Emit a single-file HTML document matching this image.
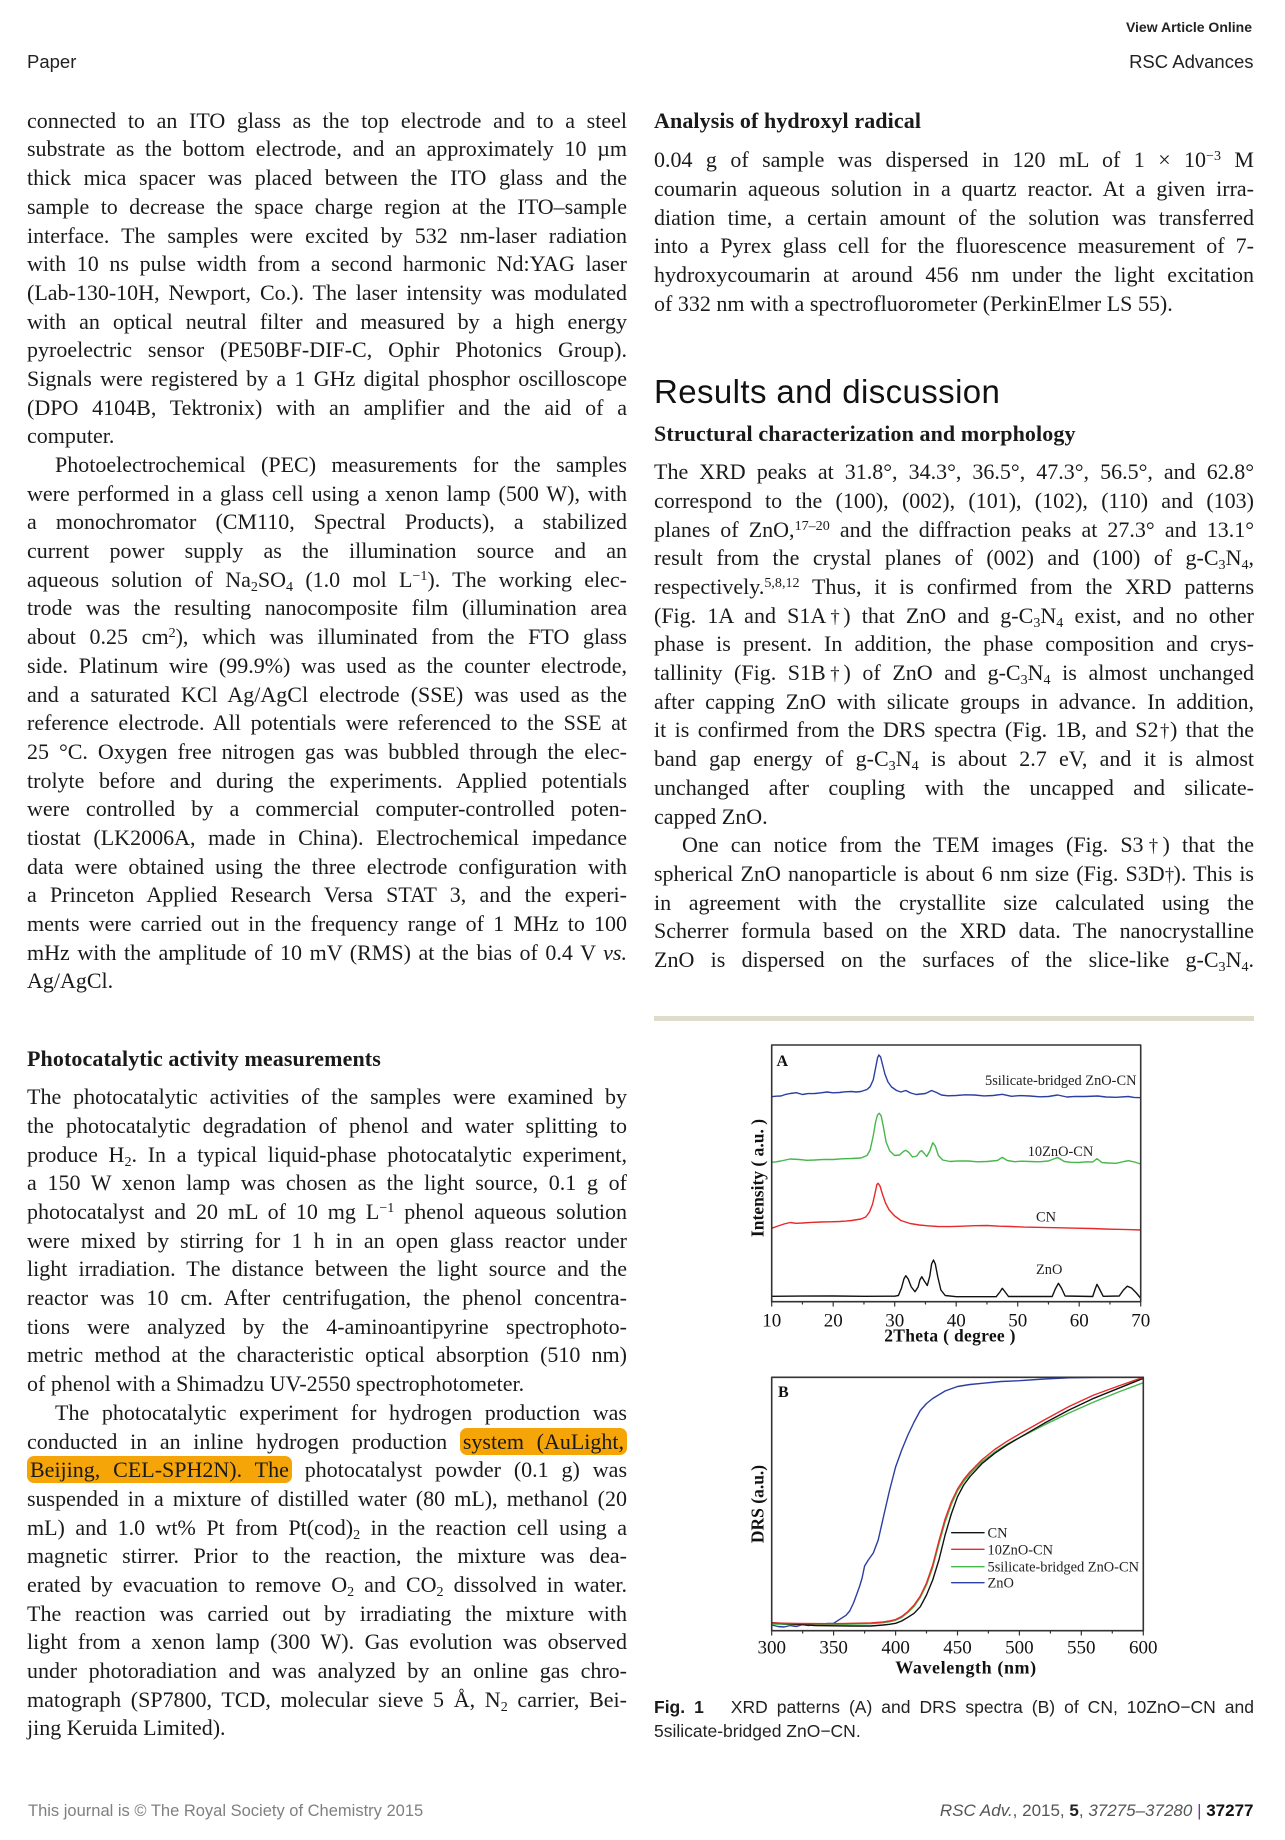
<!DOCTYPE html>
<html>
<head>
<meta charset="utf-8">
<style>
  html,body{margin:0;padding:0;background:#fff;}
  body{width:1285px;height:1840px;position:relative;overflow:hidden;}
  .abs{position:absolute;}
  .col{position:absolute;width:600px;font-family:"Liberation Serif",serif;font-size:22px;color:#1a1a1a;}
  .l{height:28.7px;line-height:28.7px;text-align:justify;text-align-last:justify;}
  .last{text-align:left;text-align-last:left;}
  .ind{text-indent:28px;}
  .h{font-weight:bold;text-align:left;text-align-last:left;letter-spacing:0.1px;}
  sup,sub{font-size:0.64em;line-height:0;}
  sup{vertical-align:0.5em;}
  sub{vertical-align:-0.28em;}
  .dg{font-size:0.85em;letter-spacing:-0.12em;margin-left:-0.08em;}
  .hl{background:#f6a508;border-radius:7px;padding:1px 3px;-webkit-box-decoration-break:clone;box-decoration-break:clone;}
  .sans{font-family:"Liberation Sans",sans-serif;}
</style>
</head>
<body>

<!-- Header -->
<div class="abs sans" style="right:33px;top:19.8px;font-size:14px;line-height:14px;font-weight:bold;color:#222;">View Article Online</div>
<div class="abs sans" style="left:27px;top:53.3px;font-size:18.5px;line-height:18.5px;color:#222;">Paper</div>
<div class="abs sans" style="right:31.5px;top:53.3px;font-size:18.5px;line-height:18.5px;color:#222;">RSC Advances</div>

<!-- Left column, paragraph block 1 -->
<div class="col" style="left:27px;top:106.8px;">
  <div class="l">connected to an ITO glass as the top electrode and to a steel</div>
  <div class="l">substrate as the bottom electrode, and an approximately 10 &micro;m</div>
  <div class="l">thick mica spacer was placed between the ITO glass and the</div>
  <div class="l">sample to decrease the space charge region at the ITO&ndash;sample</div>
  <div class="l">interface. The samples were excited by 532 nm-laser radiation</div>
  <div class="l">with 10 ns pulse width from a second harmonic Nd:YAG laser</div>
  <div class="l">(Lab-130-10H, Newport, Co.). The laser intensity was modulated</div>
  <div class="l">with an optical neutral filter and measured by a high energy</div>
  <div class="l">pyroelectric sensor (PE50BF-DIF-C, Ophir Photonics Group).</div>
  <div class="l">Signals were registered by a 1 GHz digital phosphor oscilloscope</div>
  <div class="l">(DPO 4104B, Tektronix) with an amplifier and the aid of a</div>
  <div class="l last">computer.</div>
  <div class="l ind">Photoelectrochemical (PEC) measurements for the samples</div>
  <div class="l">were performed in a glass cell using a xenon lamp (500 W), with</div>
  <div class="l">a monochromator (CM110, Spectral Products), a stabilized</div>
  <div class="l">current power supply as the illumination source and an</div>
  <div class="l">aqueous solution of Na<sub>2</sub>SO<sub>4</sub> (1.0 mol L<sup>&minus;1</sup>). The working elec-</div>
  <div class="l">trode was the resulting nanocomposite film (illumination area</div>
  <div class="l">about 0.25 cm<sup>2</sup>), which was illuminated from the FTO glass</div>
  <div class="l">side. Platinum wire (99.9%) was used as the counter electrode,</div>
  <div class="l">and a saturated KCl Ag/AgCl electrode (SSE) was used as the</div>
  <div class="l">reference electrode. All potentials were referenced to the SSE at</div>
  <div class="l">25 &deg;C. Oxygen free nitrogen gas was bubbled through the elec-</div>
  <div class="l">trolyte before and during the experiments. Applied potentials</div>
  <div class="l">were controlled by a commercial computer-controlled poten-</div>
  <div class="l">tiostat (LK2006A, made in China). Electrochemical impedance</div>
  <div class="l">data were obtained using the three electrode configuration with</div>
  <div class="l">a Princeton Applied Research Versa STAT 3, and the experi-</div>
  <div class="l">ments were carried out in the frequency range of 1 MHz to 100</div>
  <div class="l">mHz with the amplitude of 10 mV (RMS) at the bias of 0.4 V <i>vs.</i></div>
  <div class="l last">Ag/AgCl.</div>
</div>

<!-- Left column: Photocatalytic -->
<div class="col" style="left:27px;top:1045.3px;">
  <div class="l h">Photocatalytic activity measurements</div>
</div>
<div class="col" style="left:27px;top:1083.3px;">
  <div class="l">The photocatalytic activities of the samples were examined by</div>
  <div class="l">the photocatalytic degradation of phenol and water splitting to</div>
  <div class="l">produce H<sub>2</sub>. In a typical liquid-phase photocatalytic experiment,</div>
  <div class="l">a 150 W xenon lamp was chosen as the light source, 0.1 g of</div>
  <div class="l">photocatalyst and 20 mL of 10 mg L<sup>&minus;1</sup> phenol aqueous solution</div>
  <div class="l">were mixed by stirring for 1 h in an open glass reactor under</div>
  <div class="l">light irradiation. The distance between the light source and the</div>
  <div class="l">reactor was 10 cm. After centrifugation, the phenol concentra-</div>
  <div class="l">tions were analyzed by the 4-aminoantipyrine spectrophoto-</div>
  <div class="l">metric method at the characteristic optical absorption (510 nm)</div>
  <div class="l last">of phenol with a Shimadzu UV-2550 spectrophotometer.</div>
  <div class="l ind">The photocatalytic experiment for hydrogen production was</div>
  <div class="l">conducted in an inline hydrogen production <span class="hl">system (AuLight,</span></div>
  <div class="l"><span class="hl">Beijing, CEL-SPH2N). The</span> photocatalyst powder (0.1 g) was</div>
  <div class="l">suspended in a mixture of distilled water (80 mL), methanol (20</div>
  <div class="l">mL) and 1.0 wt% Pt from Pt(cod)<sub>2</sub> in the reaction cell using a</div>
  <div class="l">magnetic stirrer. Prior to the reaction, the mixture was dea-</div>
  <div class="l">erated by evacuation to remove O<sub>2</sub> and CO<sub>2</sub> dissolved in water.</div>
  <div class="l">The reaction was carried out by irradiating the mixture with</div>
  <div class="l">light from a xenon lamp (300 W). Gas evolution was observed</div>
  <div class="l">under photoradiation and was analyzed by an online gas chro-</div>
  <div class="l">matograph (SP7800, TCD, molecular sieve 5 &Aring;, N<sub>2</sub> carrier, Bei-</div>
  <div class="l last">jing Keruida Limited).</div>
</div>

<!-- Right column: Analysis of hydroxyl radical -->
<div class="col" style="left:654px;top:107.3px;">
  <div class="l h">Analysis of hydroxyl radical</div>
</div>
<div class="col" style="left:654px;top:146.3px;">
  <div class="l">0.04 g of sample was dispersed in 120 mL of 1 &times; 10<sup>&minus;3</sup> M</div>
  <div class="l">coumarin aqueous solution in a quartz reactor. At a given irra-</div>
  <div class="l">diation time, a certain amount of the solution was transferred</div>
  <div class="l">into a Pyrex glass cell for the fluorescence measurement of 7-</div>
  <div class="l">hydroxycoumarin at around 456 nm under the light excitation</div>
  <div class="l last">of 332 nm with a spectrofluorometer (PerkinElmer LS 55).</div>
</div>

<!-- Results and discussion -->
<div class="abs sans" style="left:654px;top:371.9px;font-size:33px;line-height:40px;letter-spacing:0.4px;color:#111;white-space:nowrap;">Results and discussion</div>
<div class="col" style="left:654px;top:420.3px;">
  <div class="l h">Structural characterization and morphology</div>
</div>
<div class="col" style="left:654px;top:458.3px;">
  <div class="l">The XRD peaks at 31.8&deg;, 34.3&deg;, 36.5&deg;, 47.3&deg;, 56.5&deg;, and 62.8&deg;</div>
  <div class="l">correspond to the (100), (002), (101), (102), (110) and (103)</div>
  <div class="l">planes of ZnO,<sup>17&ndash;20</sup> and the diffraction peaks at 27.3&deg; and 13.1&deg;</div>
  <div class="l">result from the crystal planes of (002) and (100) of g-C<sub>3</sub>N<sub>4</sub>,</div>
  <div class="l">respectively.<sup>5,8,12</sup> Thus, it is confirmed from the XRD patterns</div>
  <div class="l">(Fig. 1A and S1A<span class="dg">&dagger;</span>) that ZnO and g-C<sub>3</sub>N<sub>4</sub> exist, and no other</div>
  <div class="l">phase is present. In addition, the phase composition and crys-</div>
  <div class="l">tallinity (Fig. S1B<span class="dg">&dagger;</span>) of ZnO and g-C<sub>3</sub>N<sub>4</sub> is almost unchanged</div>
  <div class="l">after capping ZnO with silicate groups in advance. In addition,</div>
  <div class="l">it is confirmed from the DRS spectra (Fig. 1B, and S2<span class="dg">&dagger;</span>) that the</div>
  <div class="l">band gap energy of g-C<sub>3</sub>N<sub>4</sub> is about 2.7 eV, and it is almost</div>
  <div class="l">unchanged after coupling with the uncapped and silicate-</div>
  <div class="l last">capped ZnO.</div>
  <div class="l ind">One can notice from the TEM images (Fig. S3<span class="dg">&dagger;</span>) that the</div>
  <div class="l">spherical ZnO nanoparticle is about 6 nm size (Fig. S3D<span class="dg">&dagger;</span>). This is</div>
  <div class="l">in agreement with the crystallite size calculated using the</div>
  <div class="l">Scherrer formula based on the XRD data. The nanocrystalline</div>
  <div class="l">ZnO is dispersed on the surfaces of the slice-like g-C<sub>3</sub>N<sub>4</sub>.</div>
</div>

<!-- Figures -->
<svg class="abs" style="left:0;top:0;" width="1285" height="1840" viewBox="0 0 1285 1840" xmlns="http://www.w3.org/2000/svg">
  <!-- separator -->
  <rect x="654" y="1016" width="600" height="5" fill="#e0dccb"/>

  <!-- ===== Chart A ===== -->
  <g font-family="Liberation Serif, serif" fill="none" stroke-linejoin="round" stroke-linecap="round">
    <polyline stroke="#2b3ea3" stroke-width="1.4" points="771.7,1096.7 776,1096.2 780.9,1096 785,1094.6 790.1,1093.5 796.3,1092.7 802.5,1094.5 808,1093.6 814.8,1093.5 820,1092.9 827.1,1092 833,1092.8 839.4,1092.5 845,1091.8 851.7,1091.5 856,1092 860.9,1091.5 867.0,1089.5 870.1,1086.7 873.2,1080 875.6,1068 877.5,1058 878.8,1055 880.6,1057 882.4,1064 884.9,1074 888.0,1082 891.6,1087 896.6,1090.5 900.9,1092 905.8,1090.5 910.7,1093 916.2,1094.5 925.5,1093.5 931.6,1090.5 936.5,1092.5 941.4,1095 948,1095.8 956.2,1095.5 965,1094.8 974.6,1095 984,1095.9 993.1,1095.5 1002.3,1094.3 1011.5,1096.3 1020,1095.6 1029.9,1096 1040,1096.8 1048.4,1096.5 1057.6,1095 1066.9,1097 1075,1096.4 1085.3,1096.5 1097.6,1096 1106,1097 1116.1,1097.3 1128.4,1096.5 1134,1097.4 1140.7,1097.7"/>
    <polyline stroke="#45b84a" stroke-width="1.4" points="771.7,1162.3 776,1161.8 780.9,1161 790.1,1159 799.4,1159.5 807,1160.3 814.8,1160 824,1159.4 833.2,1159.5 842,1158.8 851.7,1158.5 860.9,1158 867.0,1155.5 870.1,1150 873.2,1136 875.6,1122 877.5,1115 879.3,1113.3 881.2,1116 883.6,1128 886.1,1142 889.8,1151 894.7,1155.5 899.6,1155 903.4,1151.5 905.8,1150.3 908.9,1152.5 912.5,1157 916.8,1156 920.0,1151.5 921.8,1150.7 924.3,1153.5 926.7,1156.5 929.8,1151 932.8,1142.7 935.3,1146 938.4,1155.5 942.7,1160 950.1,1161.5 958,1160.9 968.5,1161 977,1161.8 987.0,1161.5 997.4,1160.5 1002.3,1157.3 1007.2,1160.5 1014.6,1161.7 1022,1161.2 1029.9,1161.5 1039,1161.8 1048.4,1161 1057.6,1157.5 1064.4,1161.5 1071,1162.3 1079.2,1162.5 1086,1161.8 1092.7,1162 1097.0,1158.7 1101.9,1162.5 1108,1163 1116.1,1163.3 1124.1,1161.5 1128.4,1160.7 1134.6,1162 1140.7,1164"/>
    <polyline stroke="#e8292b" stroke-width="1.4" points="771.7,1228.3 777.9,1226 784.0,1224 790.2,1222.5 796,1223.3 802.5,1223 811,1222.4 820.9,1222 830,1221.8 839.4,1221.5 846,1221.1 851.7,1220.5 860.9,1219 865.8,1217 869.5,1212 872.6,1204 875.0,1193.3 876.9,1184.5 878.1,1183.3 880.0,1186 882.4,1194 885.5,1203 889.2,1210 894.7,1216 900.9,1220.5 910.1,1223.5 919.3,1225 928,1225.8 937.8,1226.5 950,1226.6 962.4,1226.2 975,1225.7 987.0,1225.5 999,1226.2 1011.5,1226.5 1024,1227.1 1036.1,1227.3 1048,1227.6 1060.7,1227.8 1076,1228.2 1091.5,1228.5 1104,1229 1116.1,1229.3 1128,1229.6 1140.7,1230"/>
    <polyline stroke="#111" stroke-width="1.4" points="771.7,1296.3 800,1296.1 833.2,1296 865,1296.3 894.7,1296.2 898.4,1295.5 901.5,1288 903.9,1279 905.8,1275.7 908.2,1279 911.3,1287 915.0,1291.7 918.1,1287 919.9,1280 921.8,1276.7 924.3,1281 927.3,1285.5 929.8,1276 931.6,1264 933.5,1260 935.3,1264 937.8,1277 940.9,1290 945.2,1295.5 956.2,1296.7 996.2,1296.7 999.9,1292 1002.3,1288.3 1004.8,1291.5 1008.5,1296.5 1052.2,1296.5 1055.3,1289 1058.4,1283.3 1061.4,1288 1065.1,1296 1092.7,1296.5 1095.2,1289 1097.0,1284.3 1099.5,1289 1103.2,1296.3 1119.2,1296 1123.5,1290 1127.2,1286.2 1131.5,1288 1136.4,1293 1140.7,1298.3"/>
    <rect x="771.7" y="1045" width="369" height="256.7" stroke="#333" stroke-width="1.6"/>
    <g stroke="#333" stroke-width="1.2">
      <line x1="771.7" y1="1301.7" x2="771.7" y2="1306"/>
      <line x1="802.45" y1="1301.7" x2="802.45" y2="1304"/>
      <line x1="833.2" y1="1301.7" x2="833.2" y2="1306"/>
      <line x1="863.95" y1="1301.7" x2="863.95" y2="1304"/>
      <line x1="894.7" y1="1301.7" x2="894.7" y2="1306"/>
      <line x1="925.45" y1="1301.7" x2="925.45" y2="1304"/>
      <line x1="956.2" y1="1301.7" x2="956.2" y2="1306"/>
      <line x1="986.95" y1="1301.7" x2="986.95" y2="1304"/>
      <line x1="1017.7" y1="1301.7" x2="1017.7" y2="1306"/>
      <line x1="1048.45" y1="1301.7" x2="1048.45" y2="1304"/>
      <line x1="1079.2" y1="1301.7" x2="1079.2" y2="1306"/>
      <line x1="1109.95" y1="1301.7" x2="1109.95" y2="1304"/>
      <line x1="1140.7" y1="1301.7" x2="1140.7" y2="1306"/>
    </g>
  </g>
  <g font-family="Liberation Serif, serif" fill="#111">
    <text x="776.5" y="1066" font-size="16" font-weight="bold">A</text>
    <text x="985" y="1085" font-size="14.4" fill="#222">5silicate-bridged ZnO-CN</text>
    <text x="1027.7" y="1156" font-size="14.4" fill="#222">10ZnO-CN</text>
    <text x="1036" y="1221.7" font-size="14.4" fill="#222">CN</text>
    <text x="1036" y="1274" font-size="14.4" fill="#222">ZnO</text>
    <g font-size="19" text-anchor="middle">
      <text x="771.7" y="1326.5">10</text>
      <text x="833.2" y="1326.5">20</text>
      <text x="894.7" y="1326.5">30</text>
      <text x="956.2" y="1326.5">40</text>
      <text x="1017.7" y="1326.5">50</text>
      <text x="1079.2" y="1326.5">60</text>
      <text x="1140.7" y="1326.5">70</text>
    </g>
    <text x="950" y="1341.7" font-size="17.5" font-weight="bold" text-anchor="middle" letter-spacing="0.3">2Theta ( degree )</text>
    <text transform="translate(763.5,1178) rotate(-90)" font-size="17.5" font-weight="bold" text-anchor="middle">Intensity ( a.u. )</text>
  </g>

  <!-- ===== Chart B ===== -->
  <g fill="none" stroke-linejoin="round" stroke-linecap="round">
    <polyline stroke="#2b3ea3" stroke-width="1.4" points="771.7,1625 778.0,1626.5 784.1,1627 790.3,1625.5 796.5,1626.5 802.7,1624.5 808.9,1625.5 815.1,1624 821.2,1624.3 827.4,1623.5 833.6,1623.3 839.8,1619.3 846.0,1615.3 849.7,1611 853.5,1603 857.2,1593 859.7,1586 862.1,1578 864.6,1566 868.3,1560 873.3,1553 878.2,1540 883.2,1518 889.4,1491 895.6,1467 901.7,1450 907.9,1435 914.1,1422 920.3,1410.5 926.5,1403.5 932.7,1398.5 945.1,1391 957.5,1386.5 969.9,1384.5 982.3,1383.3 1000.9,1381.5 1019.4,1380.7 1044.2,1379 1069.0,1377.8 1093.8,1377.4 1143.3,1377.3"/>
    <polyline stroke="#45b84a" stroke-width="1.4" points="771.7,1624 796.5,1624.5 833.6,1624.5 870.8,1623.7 883.2,1622.7 889.4,1621.8 895.6,1620.3 901.7,1617.5 907.9,1612.5 914.1,1606.5 920.3,1597.5 926.5,1585 932.7,1567.5 938.9,1544 945.1,1522 951.3,1504.5 957.5,1491 963.7,1481.5 969.9,1474 982.3,1461.5 994.7,1452 1007.0,1444.3 1019.4,1437.7 1044.2,1425 1069.0,1413 1093.8,1402 1118.5,1392 1143.3,1382.7"/>
    <polyline stroke="#111" stroke-width="1.4" points="771.7,1622.7 784.1,1623.5 796.5,1624.3 815.1,1625.5 833.6,1625.8 852.2,1626 870.8,1626 883.2,1625 889.4,1624.3 895.6,1623.3 901.7,1621 907.9,1617.3 914.1,1613.3 920.3,1606.7 926.5,1595 932.7,1580 938.9,1560 945.1,1535 951.3,1514 957.5,1496.7 963.7,1485 969.9,1476.7 982.3,1463.3 994.7,1453.3 1007.0,1445 1019.4,1437.7 1044.2,1423.3 1069.0,1410 1093.8,1398.3 1118.5,1388.3 1143.3,1378.3"/>
    <polyline stroke="#e8292b" stroke-width="1.4" points="771.7,1623 796.5,1623.5 833.6,1623.7 870.8,1623 883.2,1622 889.4,1621 895.6,1619.5 901.7,1616.5 907.9,1611.5 914.1,1605 920.3,1596 926.5,1583 932.7,1565 938.9,1541 945.1,1519 951.3,1502 957.5,1489 963.7,1479.5 969.9,1472 982.3,1459.5 994.7,1449.5 1007.0,1441.3 1019.4,1434 1044.2,1420 1069.0,1406.5 1093.8,1395 1118.5,1386 1143.3,1377.3"/>
    <rect x="771.7" y="1377.3" width="371.6" height="253.4" stroke="#333" stroke-width="1.6"/>
    <g stroke="#333" stroke-width="1.2">
      <line x1="771.7" y1="1630.7" x2="771.7" y2="1635"/>
      <line x1="802.67" y1="1630.7" x2="802.67" y2="1633"/>
      <line x1="833.6" y1="1630.7" x2="833.6" y2="1635"/>
      <line x1="864.6" y1="1630.7" x2="864.6" y2="1633"/>
      <line x1="895.6" y1="1630.7" x2="895.6" y2="1635"/>
      <line x1="926.5" y1="1630.7" x2="926.5" y2="1633"/>
      <line x1="957.5" y1="1630.7" x2="957.5" y2="1635"/>
      <line x1="988.4" y1="1630.7" x2="988.4" y2="1633"/>
      <line x1="1019.4" y1="1630.7" x2="1019.4" y2="1635"/>
      <line x1="1050.4" y1="1630.7" x2="1050.4" y2="1633"/>
      <line x1="1081.3" y1="1630.7" x2="1081.3" y2="1635"/>
      <line x1="1112.3" y1="1630.7" x2="1112.3" y2="1633"/>
      <line x1="1143.3" y1="1630.7" x2="1143.3" y2="1635"/>
    </g>
    <line x1="951.7" y1="1532.7" x2="984" y2="1532.7" stroke="#111" stroke-width="1.4"/>
    <line x1="951.7" y1="1549.3" x2="984" y2="1549.3" stroke="#e8292b" stroke-width="1.4"/>
    <line x1="951.7" y1="1566.7" x2="984" y2="1566.7" stroke="#45b84a" stroke-width="1.4"/>
    <line x1="951.7" y1="1582.7" x2="984" y2="1582.7" stroke="#2b3ea3" stroke-width="1.4"/>
  </g>
  <g font-family="Liberation Serif, serif" fill="#111">
    <text x="778" y="1397" font-size="16" font-weight="bold">B</text>
    <g font-size="14.4" fill="#222">
      <text x="987.5" y="1537.7">CN</text>
      <text x="987.5" y="1554.3">10ZnO-CN</text>
      <text x="987.5" y="1571.7">5silicate-bridged ZnO-CN</text>
      <text x="987.5" y="1587.7">ZnO</text>
    </g>
    <g font-size="19" text-anchor="middle">
      <text x="771.7" y="1653.3">300</text>
      <text x="833.6" y="1653.3">350</text>
      <text x="895.6" y="1653.3">400</text>
      <text x="957.5" y="1653.3">450</text>
      <text x="1019.4" y="1653.3">500</text>
      <text x="1081.3" y="1653.3">550</text>
      <text x="1143.3" y="1653.3">600</text>
    </g>
    <text x="966" y="1673.3" font-size="18" font-weight="bold" text-anchor="middle" letter-spacing="0.6">Wavelength (nm)</text>
    <text transform="translate(763.5,1504) rotate(-90)" font-size="17.5" font-weight="bold" text-anchor="middle">DRS (a.u.)</text>
  </g>
</svg>

<!-- Caption -->
<div class="abs sans" style="left:654px;top:1695.2px;width:600px;font-size:17.5px;line-height:24px;color:#222;">
  <div style="text-align:justify;text-align-last:justify;"><b style="color:#1a1a1a;">Fig. 1</b>&nbsp;&nbsp; XRD patterns (A) and DRS spectra (B) of CN, 10ZnO&minus;CN and</div>
  <div>5silicate-bridged ZnO&minus;CN.</div>
</div>

<!-- Footer -->
<div class="abs sans" style="left:28px;top:1802.7px;font-size:16.5px;line-height:16.5px;color:#808080;white-space:nowrap;">This journal is &copy; The Royal Society of Chemistry 2015</div>
<div class="abs sans" style="right:31.5px;top:1802.3px;font-size:17px;line-height:17px;color:#555;white-space:nowrap;"><i>RSC Adv.</i>, 2015, <b style="color:#222;">5</b>, <i>37275&ndash;37280</i> <span style="color:#7a3a8c;">|</span> <b style="color:#111;">37277</b></div>

</body>
</html>
